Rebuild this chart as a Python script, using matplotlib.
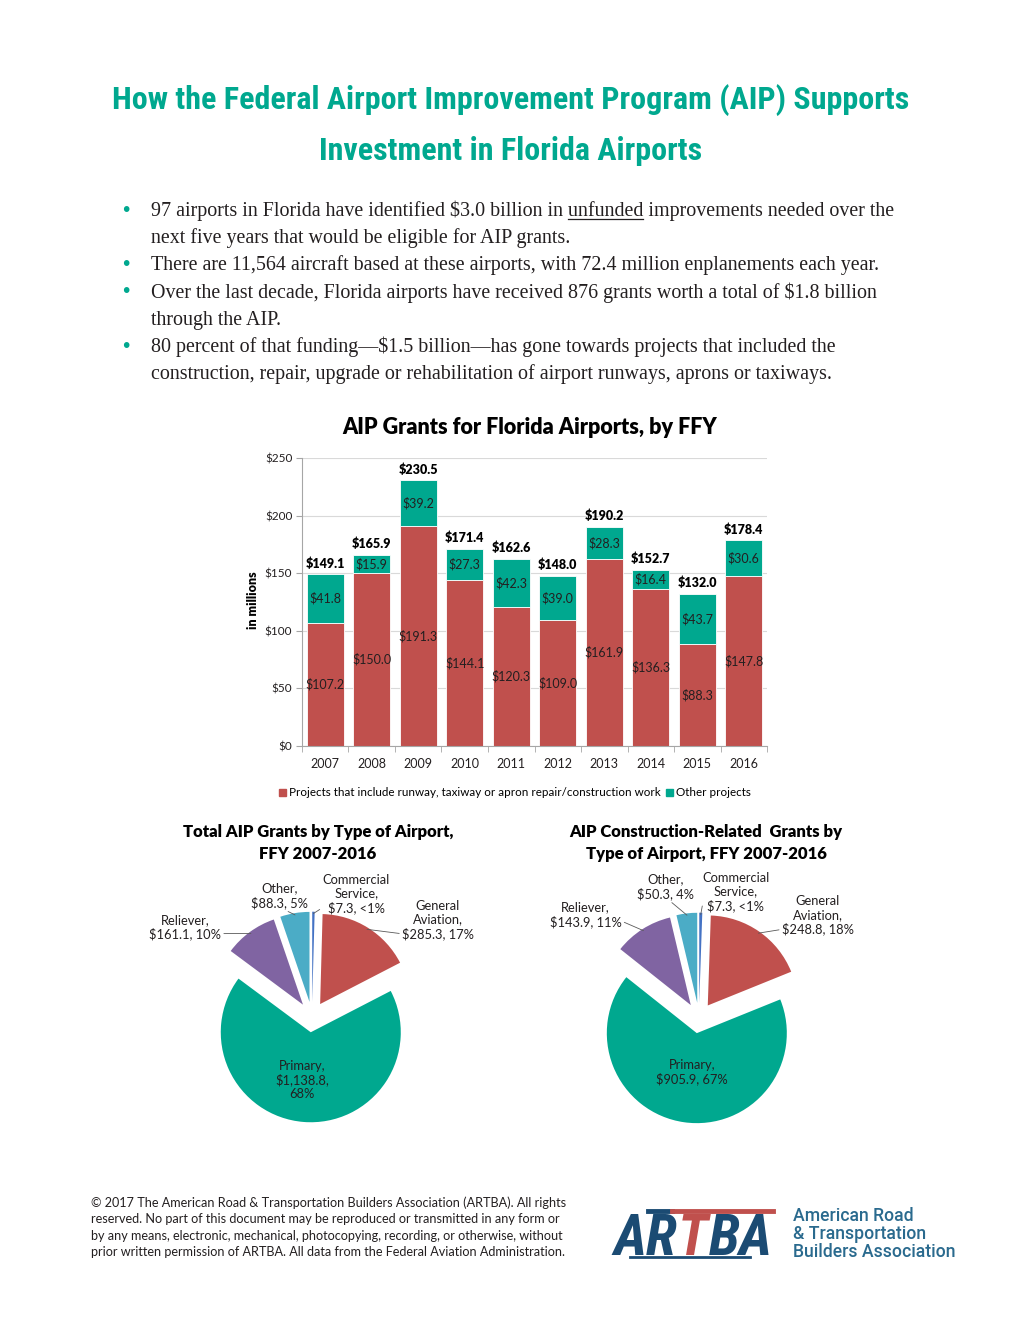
import matplotlib
matplotlib.use("Agg")
import matplotlib.pyplot as plt
from matplotlib import font_manager
from matplotlib.patches import Patch
import numpy as np

# ---- data ----
years = ['2007', '2008', '2009', '2010', '2011', '2012', '2013', '2014', '2015', '2016']
runway_work = [107.2, 150.0, 191.3, 144.1, 120.3, 109.0, 161.9, 136.3, 88.3, 147.8]
other_projects = [41.8, 15.9, 39.2, 27.3, 42.3, 39.0, 28.3, 16.4, 43.7, 30.6]
totals = [149.1, 165.9, 230.5, 171.4, 162.6, 148.0, 190.2, 152.7, 132.0, 178.4]
y_ticks = [0, 50, 100, 150, 200, 250]

airport_types = ['Commercial Service', 'General Aviation', 'Primary', 'Reliever', 'Other']
total_by_type = [7.3, 285.3, 1138.8, 161.1, 88.3]
total_labels = ['Commercial\nService,\n$7.3, <1%', 'General\nAviation,\n$285.3, 17%',
                'Primary,\n$1,138.8,\n68%', 'Reliever,\n$161.1, 10%', 'Other,\n$88.3, 5%']
constr_by_type = [7.3, 248.8, 905.9, 143.9, 50.3]
constr_labels = ['Commercial\nService,\n$7.3, <1%', 'General\nAviation,\n$248.8, 18%',
                 'Primary,\n$905.9, 67%', 'Reliever,\n$143.9, 11%', 'Other,\n$50.3, 4%']

bullets = [
    ["97 airports in Florida have identified $3.0 billion in unfunded improvements needed over the",
     "next five years that would be eligible for AIP grants."],
    ["There are 11,564 aircraft based at these airports, with 72.4 million enplanements each year."],
    ["Over the last decade, Florida airports have received 876 grants worth a total of $1.8 billion",
     "through the AIP."],
    ["80 percent of that funding\u2014$1.5 billion\u2014has gone towards projects that included the",
     "construction, repair, upgrade or rehabilitation of airport runways, aprons or taxiways."],
]

# ---- style ----
TEAL = '#00A88F'
RED = '#C0504D'
PIE_COLORS = ['#4472C4', RED, TEAL, '#8064A2', '#4BACC6']
DARK = '#231F20'

names = {f.name for f in font_manager.fontManager.ttflist}


def pick(*cands):
    for c in cands:
        if c in names:
            return c
    return 'DejaVu Sans'


COND = pick('Liberation Sans Narrow', 'Roboto Condensed', 'DejaVu Sans')
SANS = pick('Lato', 'Open Sans', 'DejaVu Sans')
SERIF = pick('Liberation Serif', 'DejaVu Serif')
LOGO = pick('Roboto', 'Open Sans', 'DejaVu Sans')

W, H = 1020, 1320
fig = plt.figure(figsize=(W / 100, H / 100), dpi=100)
fig.patch.set_facecolor('white')
renderer = fig.canvas.get_renderer()


def fx(x):
    return x / W


def fy(y):
    return 1 - y / H


def text_width(s, **kw):
    t = fig.text(0, 0, s, **kw)
    w = t.get_window_extent(renderer).width
    t.remove()
    return w


# ---- title ----
for y, line in [(100, 'How the Federal Airport Improvement Program (AIP) Supports'),
                (151, 'Investment in Florida Airports')]:
    fig.text(fx(511), fy(y), line, ha='center', va='center', color=TEAL,
             fontsize=23, fontweight='bold', family=COND, fontstretch='condensed')

# ---- bullets ----
bkw = dict(fontsize=14.4, family=SERIF, color=DARK)
y = 216
for item in bullets:
    fig.text(fx(126), fy(y - 6), '\u2022', ha='center', va='center', color=TEAL, fontsize=14)
    for line in item:
        fig.text(fx(151), fy(y), line, ha='left', va='baseline', **bkw)
        if 'unfunded' in line:
            pre = line[:line.index('unfunded')]
            x1 = text_width(pre + 'unfunded', **bkw)
            x0 = x1 - text_width('unfunded', **bkw)
            fig.add_artist(plt.Line2D([fx(151 + x0), fx(151 + x1)], [fy(y + 3), fy(y + 3)],
                                      color=DARK, lw=0.9))
        y += 27.2

# ---- bar chart ----
ax = fig.add_axes([fx(302), fy(746), (767 - 302) / W, (746 - 458) / H])
x = np.arange(len(years))
ax.bar(x, runway_work, 0.8, color=RED, edgecolor='white', linewidth=0.6, zorder=2)
ax.bar(x, other_projects, 0.8, bottom=runway_work, color=TEAL, edgecolor='white',
       linewidth=0.6, zorder=2)
ax.set_xlim(-0.5, len(years) - 0.5)
ax.set_ylim(0, 250)
ax.set_yticks(y_ticks)
ax.set_yticklabels(['$%d' % v for v in y_ticks], fontsize=8.5, family=SANS, color=DARK)
ax.set_xticks(x)
ax.set_xticklabels(years, fontsize=9, family=SANS, color=DARK)
ax.set_xticks(np.arange(-0.5, len(years)), minor=True)
ax.tick_params(axis='x', which='major', length=0, pad=9)
ax.tick_params(axis='x', which='minor', length=4, color='#A6A6A6')
ax.tick_params(axis='y', length=4, color='#A6A6A6', pad=3)
ax.yaxis.grid(True, color='#D9D9D9', lw=0.8, zorder=0)
ax.set_axisbelow(True)
for s in ['top', 'right']:
    ax.spines[s].set_visible(False)
for s in ['left', 'bottom']:
    ax.spines[s].set_color('#A6A6A6')

for i in range(len(years)):
    ax.text(x[i], runway_work[i] / 2, '$%.1f' % runway_work[i], ha='center', va='center',
            fontsize=9, family=SANS, color=DARK)
    ax.text(x[i], runway_work[i] + other_projects[i] / 2, '$%.1f' % other_projects[i],
            ha='center', va='center', fontsize=9, family=SANS, color=DARK)
    ax.text(x[i], totals[i] + 4, '$%.1f' % totals[i], ha='center', va='bottom',
            fontsize=9, fontweight='heavy', family=SANS, color='black')

fig.text(fx(530), fy(428), 'AIP Grants for Florida Airports, by FFY', ha='center', va='center',
         fontsize=15.5, fontweight='heavy', family=SANS, color='black')
fig.text(fx(253), fy(600), 'in millions', ha='center', va='center', rotation=90,
         fontsize=9, fontweight='heavy', family=SANS, color='black')
fig.legend(handles=[Patch(color=RED, label='Projects that include runway, taxiway or apron repair/construction work'),
                    Patch(color=TEAL, label='Other projects')],
           loc='center', bbox_to_anchor=(fx(515), fy(793)), ncol=2, frameon=False,
           prop=dict(family=SANS, size=8.4), handlelength=0.6, handleheight=0.6,
           handletextpad=0.3, columnspacing=0.4)


# ---- pies ----
def draw_pie(cx, cy, values, labels, label_xy, rel_pos, title, title_x):
    half = 160
    pax = fig.add_axes([fx(cx - half), fy(cy + half), 2 * half / W, 2 * half / H])
    wedges, _ = pax.pie(values, colors=PIE_COLORS, startangle=90, counterclock=False,
                        explode=[0.17] * len(values), radius=1.0,
                        wedgeprops=dict(linewidth=0))
    lim = half / 90
    pax.set_xlim(-lim, lim)
    pax.set_ylim(-lim, lim)
    pax.set_aspect('equal')
    pax.axis('off')
    for w, lab, pos, rp in zip(wedges, labels, label_xy, rel_pos):
        kw = dict(ha='center', va='center', fontsize=9.3, family=SANS, color=DARK,
                  linespacing=1.15)
        if rp is None:
            pax.text(pos[0], pos[1], lab, **kw)
            continue
        ang = np.deg2rad((w.theta1 + w.theta2) / 2)
        anchor = (w.center[0] + 0.98 * np.cos(ang), w.center[1] + 0.98 * np.sin(ang))
        pax.annotate(lab, xy=anchor, xytext=pos, **kw,
                     arrowprops=dict(arrowstyle='-', color='#595959', lw=0.6,
                                     shrinkA=0, shrinkB=0, relpos=rp))
    fig.text(fx(title_x), fy(843), title, ha='center', va='center', fontsize=12,
             fontweight='heavy', family=SANS, color='black', linespacing=1.45)


draw_pie(312, 1017, total_by_type, total_labels,
         [(0.49, 1.37), (1.40, 1.08), (-0.11, -0.70), (-1.41, 1.00), (-0.36, 1.35)],
         [(0.0, 0.15), (0.0, 0.15), None, (1.0, 0.25), (0.55, 0.0)],
         'Total AIP Grants by Type of Airport,\nFFY 2007-2016', 318)
draw_pie(699, 1018, constr_by_type, constr_labels,
         [(0.41, 1.40), (1.32, 1.14), (-0.08, -0.60), (-1.26, 1.15), (-0.37, 1.46)],
         [(0.0, 0.15), (0.0, 0.15), None, (1.0, 0.25), (0.55, 0.0)],
         'AIP Construction-Related  Grants by\nType of Airport, FFY 2007-2016', 706)

# ---- footer ----
footer = ["\u00a9 2017 The American Road & Transportation Builders Association (ARTBA). All rights",
          "reserved. No part of this document may be reproduced or transmitted in any form or",
          "by any means, electronic, mechanical, photocopying, recording, or otherwise, without",
          "prior written permission of ARTBA. All data from the Federal Aviation Administration."]
for i, line in enumerate(footer):
    fig.text(fx(91), fy(1207 + i * 16.4), line, ha='left', va='baseline', fontsize=9.1,
             family=SANS, color=DARK)

# logo: letters drawn in pieces so the T can be red
NAVY = '#1B4B73'
lkw = dict(ha='left', va='baseline', fontsize=41, fontweight='heavy', fontstyle='italic',
           family=COND)
x_ar = 613
x_t = x_ar + text_width('AR', **lkw) + 1
x_ba = x_t + text_width('T', **lkw) + 1
fig.text(fx(x_ar), fy(1255), 'AR', color=NAVY, **lkw)
fig.text(fx(x_t), fy(1255), 'T', color=RED, **lkw)
fig.text(fx(x_ba), fy(1255), 'BA', color=NAVY, **lkw)
fig.add_artist(plt.Line2D([fx(648), fx(672)], [fy(1211), fy(1211)], color=NAVY, lw=3.5))
fig.add_artist(plt.Line2D([fx(672), fx(773)], [fy(1211), fy(1211)], color=RED, lw=3.5))
fig.add_artist(plt.Line2D([fx(630), fx(750)], [fy(1257), fy(1257)], color=NAVY, lw=2))
for i, line in enumerate(['American Road', '& Transportation', 'Builders Association']):
    fig.text(fx(793), fy(1216 + i * 18), line, ha='left', va='center', fontsize=12.7,
             fontweight='medium', family=LOGO, color='#2A6A8E')

fig.savefig('out.png', dpi=100, facecolor='white')
